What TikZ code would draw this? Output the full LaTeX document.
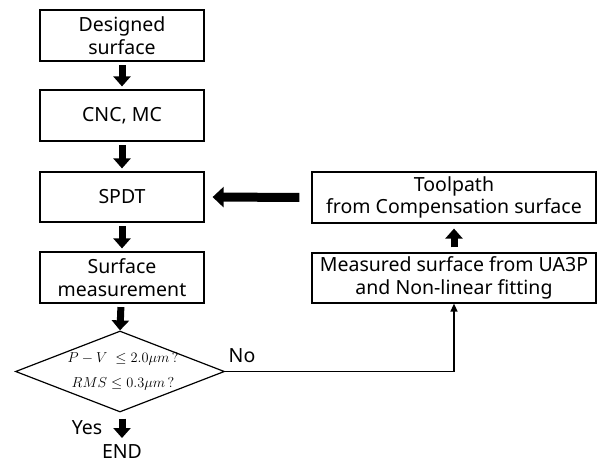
\documentclass[tikz,border=0pt]{standalone}
\usepackage{fontspec}
\setmainfont{Noto Sans}
\usetikzlibrary{arrows.meta,shapes.geometric}
\begin{document}
\begin{tikzpicture}[x=1pt,y=-1pt,
  box/.style={draw,line width=1.2pt,inner sep=0pt,align=center,font=\fontsize{19.5}{22.5}\selectfont},
  fat/.style={line width=7pt,-{Triangle[width=17pt,length=10pt]},shorten <=3.5pt,shorten >=3pt},
  bigfat/.style={line width=9pt,-{Triangle[width=20pt,length=11pt]}},
  thin/.style={line width=1.4pt,-{Triangle[width=7pt,length=8pt]}},
  lbl/.style={font=\fontsize{19.5}{22}\selectfont,inner sep=0pt}]
\useasboundingbox (0,0) rectangle (600,466);
\node[box,minimum width=164pt,minimum height=51pt] (b1) at (122,35.5) {Designed\\surface};
\node[box,minimum width=164pt,minimum height=51pt] (b2) at (122,115.5) {CNC, MC};
\node[box,minimum width=164pt,minimum height=50pt] (b3) at (122,197) {SPDT};
\node[box,minimum width=164pt,minimum height=51pt] (b4) at (122,277.5) {Surface\\measurement};
\node[draw,line width=1.2pt,diamond,inner sep=0pt,minimum width=209pt,minimum height=81pt] (d) at (120,371.5) {};
\node[inner sep=0pt,align=center,font=\fontsize{14.5}{25}\selectfont] (dt) at (123,371) {$P - V\ \leq 2.0\mu m\,?$\\$RMS \leq 0.3\mu m\,?$};
\node[box,minimum width=284pt,minimum height=51pt] (t) at (454,197.5) {Toolpath\\from Compensation surface};
\node[box,minimum width=284pt,minimum height=50pt] (m) at (454,278) {Measured surface from UA3P\\and Non-linear fitting};
\node[lbl] (end) at (122,452) {END};
\node[lbl] (yes) at (87,428) {Yes};
\node[lbl] (no) at (242,356) {No};
\coordinate (corner) at (m.south |- d.east);
\coordinate (ybot) at (122,441);
\draw[fat] (b1) -- (b2);
\draw[fat] (b2) -- (b3);
\draw[fat] (b3) -- (b4);
\draw[fat,shorten >=0pt] (b4) -- (d.north);
\draw[fat,shorten <=6pt] (d.south -| ybot) -- (ybot);
\draw[fat,shorten <=5pt,shorten >=5pt] (m) -- (t);
\draw[bigfat,shorten <=12pt,shorten >=8pt] (t.west) -- (b3.east);
\draw[thin] (d.east) -- (corner) -- (m.south);
\end{tikzpicture}
\end{document}
